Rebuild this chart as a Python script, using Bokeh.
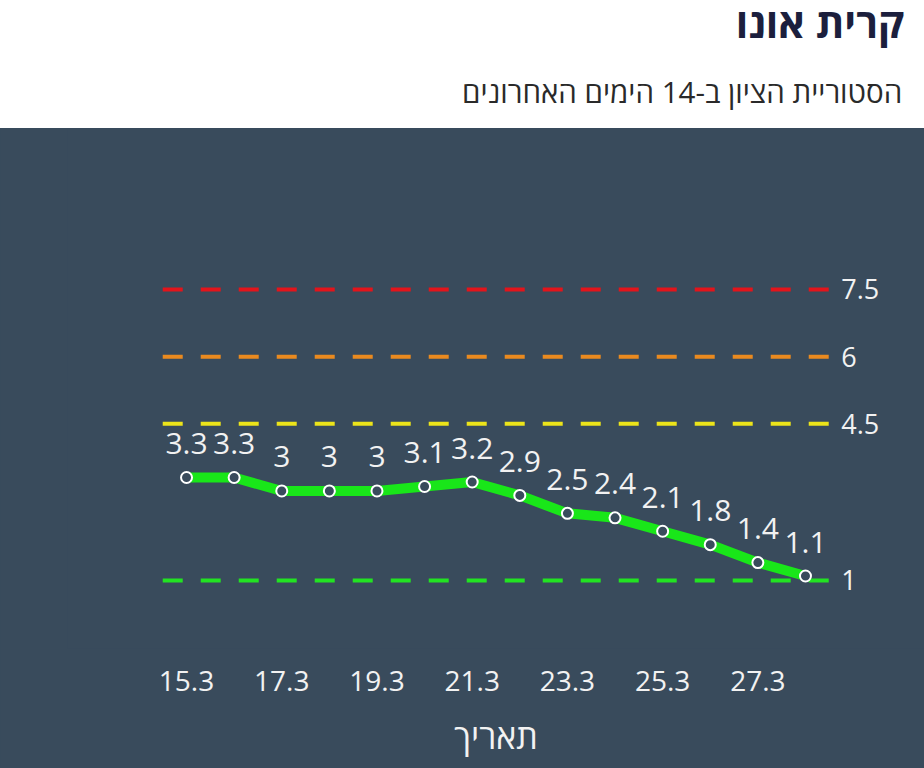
from bokeh.plotting import figure
from bokeh.layouts import column
from bokeh.models import Range1d, FixedTicker, ColumnDataSource
from bokeh.core.properties import value
from bokeh.embed import file_html
from bokeh.resources import INLINE

# ---- data ----
title_text = "קרית אונו"
subtitle_text = "הסטוריית הציון ב-14 הימים האחרונים"
x_label = "תאריך"
dates = ["15.3", "16.3", "17.3", "18.3", "19.3", "20.3", "21.3",
         "22.3", "23.3", "24.3", "25.3", "26.3", "27.3", "28.3"]
scores = [3.3, 3.3, 3, 3, 3, 3.1, 3.2, 2.9, 2.5, 2.4, 2.1, 1.8, 1.4, 1.1]
thresholds = [7.5, 6, 4.5, 1]
threshold_labels = ["7.5", "6", "4.5", "1"]
threshold_colors = ["#e3141b", "#ea8a1f", "#ece41a", "#22e322"]

BG = "#394b5c"
FONT = "Open Sans"
W = 924

# ---- header ----
h = figure(width=W, height=128, x_range=Range1d(0, W), y_range=Range1d(0, 128),
           toolbar_location=None, output_backend="svg", min_border=0,
           title_location=None,
           outline_line_color=None, background_fill_color="white",
           border_fill_color="white")
h.axis.visible = False
h.grid.visible = False
h.text(x=[902], y=[107], text=[title_text], text_align="right",
       text_baseline="middle", text_font=value(FONT),
       text_font_size="41px", text_font_style="bold", text_color="#1c1f3d")
h.text(x=[900], y=[37.5], text=[subtitle_text], text_align="right",
       text_baseline="middle", text_font=value(FONT),
       text_font_size="29.5px", text_color="#2a2a2a")

# ---- chart ----
n = len(dates)
idx = list(range(n))
p = figure(width=W, height=640, x_range=Range1d(-2.5, 15.5),
           y_range=Range1d(-0.519, 11.096), toolbar_location=None,
           output_backend="svg", min_border_left=67, min_border_right=0,
           min_border_top=0, min_border_bottom=120, title_location=None,
           background_fill_color=BG, border_fill_color=BG,
           outline_line_color=None)
p.styles = {"background-color": BG}
p.grid.visible = False
p.yaxis.visible = False

thr = ColumnDataSource(dict(y=thresholds, label=threshold_labels, color=threshold_colors,
                            x0=[-0.5] * len(thresholds), x1=[n - 0.5] * len(thresholds)))
p.segment(x0="x0", x1="x1", y0="y", y1="y", line_color="color", line_width=4,
          line_dash="20 18", source=thr)
p.text(x="x1", y="y", text="label", source=thr, x_offset=12, text_align="left",
       text_baseline="middle", text_color="#f2f2f2", text_font=value(FONT),
       text_font_size="27px")

src = ColumnDataSource(dict(x=idx, y=scores, label=[f"{v:g}" for v in scores]))
p.line(x="x", y="y", source=src, line_color="#19e619", line_width=10,
       line_join="round")
p.scatter(x="x", y="y", source=src, size=11, fill_color=BG, line_color="white",
          line_width=2)
p.text(x="x", y="y", text="label", source=src, y_offset=-34, text_align="center",
       text_baseline="alphabetic", text_color="#f2f2f2", text_font=value(FONT),
       text_font_size="30px")

ax = p.xaxis[0]
ax.ticker = FixedTicker(ticks=idx[::2])
ax.major_label_overrides = {i: dates[i] for i in idx}
ax.axis_line_color = None
ax.major_tick_line_color = None
ax.minor_tick_line_color = None
ax.major_tick_out = 0
ax.major_tick_in = 0
ax.major_label_standoff = 22
ax.major_label_text_color = "#f2f2f2"
ax.major_label_text_font = FONT
ax.major_label_text_font_size = "28px"
ax.axis_label = x_label
ax.axis_label_standoff = 19
ax.axis_label_text_color = "#f2f2f2"
ax.axis_label_text_font = FONT
ax.axis_label_text_font_size = "34px"
ax.axis_label_text_font_style = "normal"

layout = column(h, p, spacing=0)
open("out.html", "w").write(file_html(layout, INLINE))
